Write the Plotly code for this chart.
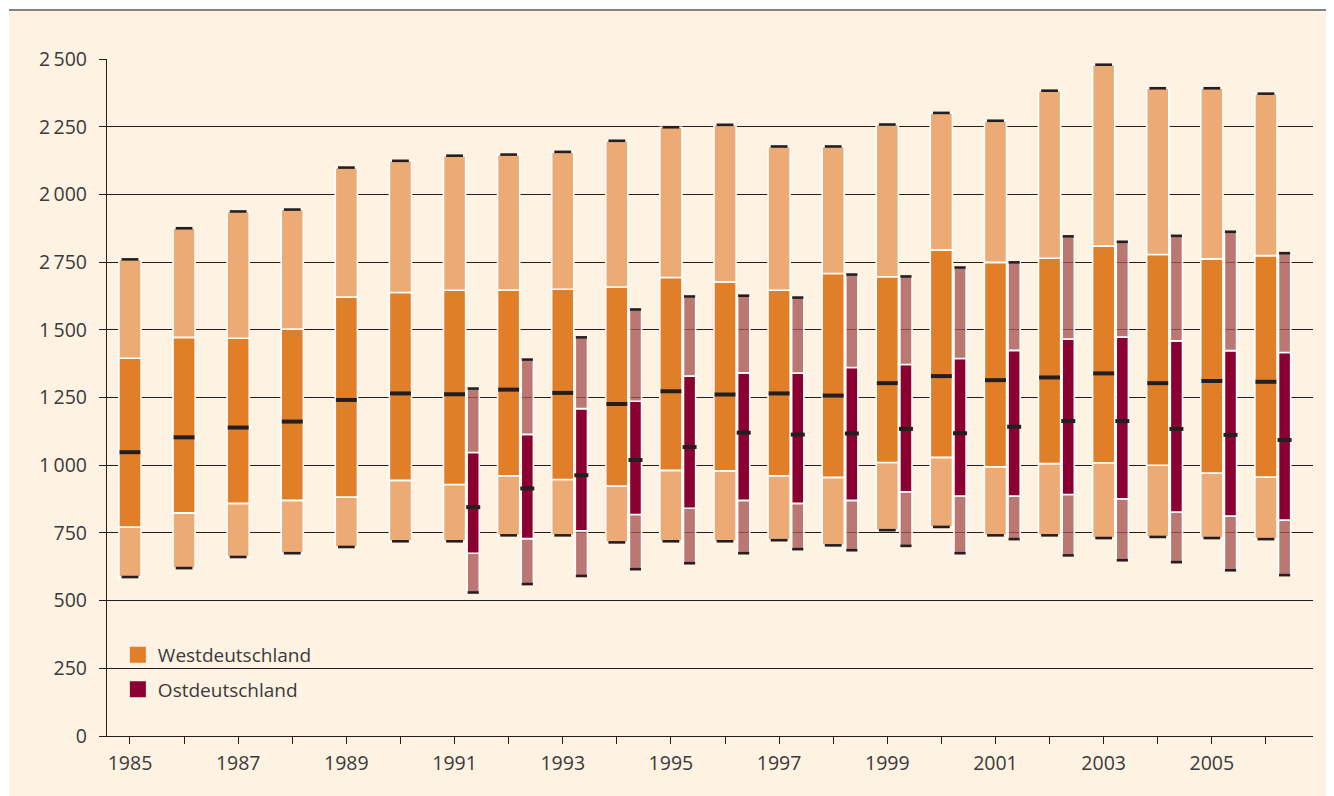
import plotly.graph_objects as go

# ---------------- data ----------------
years_west = list(range(1985, 2007))
west_min = [587, 620, 661, 675, 698, 719, 719, 741, 741, 715, 719, 719, 723, 704, 760, 772, 741, 741, 731, 735, 731, 727]
west_q1 = [772, 824, 859, 870, 882, 944, 929, 961, 947, 923, 981, 979, 961, 955, 1010, 1029, 994, 1006, 1009, 1000, 971, 956]
west_med = [1048, 1103, 1139, 1161, 1241, 1265, 1262, 1279, 1267, 1226, 1273, 1261, 1265, 1257, 1303, 1329, 1314, 1324, 1339, 1303, 1311, 1308]
west_q3 = [1395, 1472, 1469, 1503, 1621, 1638, 1646, 1647, 1650, 1658, 1693, 1677, 1646, 1708, 1696, 1795, 1749, 1764, 1809, 1778, 1762, 1774]
west_max = [1760, 1875, 1937, 1944, 2099, 2124, 2143, 2147, 2157, 2198, 2248, 2257, 2177, 2177, 2258, 2301, 2272, 2383, 2479, 2392, 2392, 2372]

years_east = list(range(1991, 2007))
east_min = [530, 561, 591, 616, 638, 675, 690, 686, 702, 675, 727, 667, 649, 642, 612, 594]
east_q1 = [675, 729, 758, 818, 841, 870, 859, 870, 902, 886, 886, 892, 876, 827, 812, 797]
east_med = [845, 914, 963, 1019, 1067, 1120, 1113, 1117, 1134, 1118, 1142, 1163, 1163, 1134, 1112, 1093]
east_q3 = [1047, 1114, 1209, 1236, 1329, 1341, 1340, 1361, 1372, 1394, 1424, 1466, 1473, 1459, 1423, 1416]
east_max = [1283, 1390, 1472, 1575, 1623, 1626, 1619, 1704, 1697, 1730, 1749, 1845, 1825, 1847, 1862, 1783]

y_tickvals = [0, 250, 500, 750, 1000, 1250, 1500, 1750, 2000, 2250, 2500]
y_ticktext = ["0", "250", "500", "750", "1\u2009000", "1\u2009250", "1\u2009500",
              "2\u2009750", "2\u2009000", "2\u2009250", "2\u2009500"]
x_ticktext = [str(y) if y % 2 == 1 else "" for y in years_west]

series_names = ["Westdeutschland", "Ostdeutschland"]

# ---------------- style ----------------
BG = "#FEF2E3"
INK = "#231F20"
TXT = "#3A3A3A"
W_LIGHT = "#ECAB74"
W_DARK = "#E07F27"
E_LIGHT = "rgba(168,84,82,0.78)"
E_DARK = "#8A0030"
FONT = "Open Sans"

W_WIDTH = 0.41
E_WIDTH = 0.225
E_SHIFT = 0.345

fig = go.Figure()


def add_box(xs, lo, q1, med, q3, hi, light, dark, width, dash_w, med_w):
    segs = [(lo, q1, light), (q1, med, dark), (med, q3, dark), (q3, hi, light)]
    for base, top, col in segs:
        fig.add_trace(go.Bar(
            x=xs, base=base, y=[t - b for t, b in zip(top, base)],
            width=width, marker=dict(color=col, line=dict(color="white", width=1.6)),
            showlegend=False, hoverinfo="skip"))
    for vals, w, lw in [(lo, dash_w, 2.6), (hi, dash_w, 2.6), (med, med_w, 4)]:
        fig.add_trace(go.Scatter(
            x=xs, y=vals, mode="markers",
            marker=dict(symbol="line-ew", size=w, line=dict(color=INK, width=lw)),
            showlegend=False, hoverinfo="skip"))


add_box(years_west, west_min, west_q1, west_med, west_q3, west_max,
        W_LIGHT, W_DARK, W_WIDTH, 12, 15)
x_east = [y + E_SHIFT for y in years_east]
add_box(x_east, east_min, east_q1, east_med, east_q3, east_max,
        E_LIGHT, E_DARK, E_WIDTH, 8, 10)

# legend entries
for name, col in zip(series_names, [W_DARK, E_DARK]):
    fig.add_trace(go.Scatter(
        x=[None], y=[None], mode="markers", name=name, legendgroup=name,
        marker=dict(symbol="square", size=16, color=col)))

# page frame
fig.add_shape(type="rect", xref="paper", yref="paper",
              x0=-0.0813, x1=1.02, y0=-0.09, y1=1.0709,
              fillcolor=BG, line=dict(width=0), layer="below")
fig.add_shape(type="line", xref="paper", yref="paper",
              x0=-0.0813, x1=1.02, y0=1.0724, y1=1.0724,
              line=dict(color="#5A5A5A", width=1.6), layer="below")

fig.update_layout(
    width=1326, height=788,
    margin=dict(l=99, r=21, t=51, b=60),
    paper_bgcolor="white", plot_bgcolor=BG,
    barmode="overlay",
    font=dict(family=FONT, size=19, color=TXT),
    showlegend=True,
    legend=dict(x=0.009, y=0.148, xanchor="left", yanchor="top",
                bgcolor="rgba(0,0,0,0)", font=dict(size=19, color=TXT),
                tracegroupgap=7, itemclick=False),
)
fig.update_xaxes(
    range=[1984.575, 2006.87], tickmode="array", tickvals=years_west, ticktext=x_ticktext,
    showgrid=False, zeroline=False, showline=True, linecolor=INK, linewidth=1.3,
    ticks="outside", ticklen=7, tickcolor=INK, tickwidth=1.3,
    tickfont=dict(size=19.5, color=TXT), ticklabelstandoff=2)
fig.update_yaxes(
    range=[0, 2500], tickmode="array", tickvals=y_tickvals, ticktext=y_ticktext,
    showgrid=True, gridcolor=INK, gridwidth=1.3, zeroline=False,
    showline=True, linecolor=INK, linewidth=1.3,
    ticks="outside", ticklen=7, tickcolor=INK, tickwidth=1.3,
    tickfont=dict(size=19.5, color=TXT), ticklabelstandoff=8)

fig.write_html("out.html")
